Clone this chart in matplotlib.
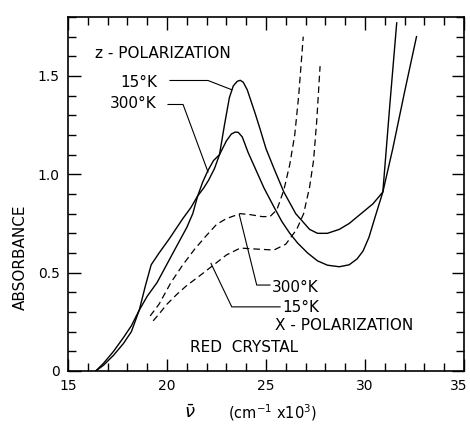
import matplotlib
matplotlib.use('Agg')
import matplotlib.pyplot as plt
import matplotlib.transforms as mtransforms
from matplotlib.ticker import MultipleLocator, FuncFormatter

# z-polarization, 15 K (solid)
z15_x = [16.4, 16.8, 17.3, 17.8, 18.2, 18.6, 18.9, 19.2, 19.6, 20.1, 20.8, 21.2, 21.55,
         21.85, 22.1, 22.4, 22.65, 22.9, 23.15, 23.35, 23.55, 23.7, 23.85, 24.05, 24.25,
         24.45, 24.7, 25.0, 25.4, 25.9, 26.5, 27.2, 27.6, 28.1, 28.7, 29.2, 29.8, 30.4,
         30.9, 31.25, 31.6]
z15_y = [0.0, 0.03, 0.08, 0.14, 0.20, 0.31, 0.43, 0.54, 0.60, 0.67, 0.775, 0.83, 0.89,
         0.93, 0.97, 1.03, 1.10, 1.25, 1.39, 1.45, 1.473, 1.478, 1.468, 1.43, 1.37,
         1.31, 1.23, 1.13, 1.03, 0.91, 0.80, 0.72, 0.70, 0.70, 0.72, 0.75, 0.80, 0.85,
         0.91, 1.35, 1.77]

# z-polarization, 300 K (solid)
z300_x = [16.4, 16.8, 17.3, 17.8, 18.2, 18.6, 19.0, 19.5, 20.3, 21.0, 21.3, 21.55,
          21.8, 22.07, 22.35, 22.65, 23.0, 23.25, 23.45, 23.6, 23.8, 24.1, 24.5, 24.9,
          25.4, 25.8, 26.2, 26.6, 27.1, 27.6, 28.1, 28.7, 29.2, 29.6, 29.9, 30.2, 30.5,
          30.9, 31.4, 32.0, 32.6]
z300_y = [0.0, 0.04, 0.10, 0.17, 0.23, 0.31, 0.38, 0.45, 0.60, 0.73, 0.80, 0.89,
          0.96, 1.02, 1.07, 1.10, 1.17, 1.205, 1.215, 1.213, 1.19, 1.11, 1.02, 0.93,
          0.834, 0.76, 0.70, 0.65, 0.60, 0.56, 0.538, 0.53, 0.54, 0.57, 0.61, 0.68, 0.78,
          0.91, 1.13, 1.42, 1.70]

# x-polarization, 300 K (dashed)
x300_x = [19.15, 19.6, 20.2, 20.8, 21.4, 22.0, 22.5, 23.0, 23.7, 24.2, 24.8, 25.2,
          25.55, 25.9, 26.2, 26.45, 26.65, 26.88]
x300_y = [0.28, 0.34, 0.45, 0.54, 0.62, 0.69, 0.745, 0.775, 0.80, 0.795, 0.785, 0.785,
          0.82, 0.92, 1.05, 1.20, 1.40, 1.70]

# x-polarization, 15 K (dashed)
x15_x = [19.3, 19.6, 20.0, 20.5, 21.0, 21.6, 22.3, 23.0, 23.7, 24.5, 25.4, 26.0,
         26.55, 26.9, 27.2, 27.4, 27.56, 27.73]
x15_y = [0.255, 0.29, 0.34, 0.39, 0.435, 0.48, 0.535, 0.59, 0.625, 0.62, 0.615, 0.645,
         0.72, 0.80, 0.935, 1.07, 1.27, 1.55]

# labels with their leader lines (data coords)
labels = [
    ("15°K", 17.63, 1.469, [(20.15, 1.477), (22.07, 1.477), (23.27, 1.43)]),
    ("300°K", 17.12, 1.36, [(20.05, 1.355), (20.81, 1.355), (22.07, 1.012)]),
    ("300°K", 25.30, 0.426, [(25.2, 0.437), (24.53, 0.437), (23.65, 0.795)]),
    ("15°K", 25.81, 0.325, [(25.71, 0.326), (23.27, 0.326), (22.22, 0.547)]),
]
notes = [
    ("z - POLARIZATION", 16.36, 1.612),
    ("X - POLARIZATION", 25.45, 0.233),
    ("RED  CRYSTAL", 21.16, 0.122),
]

plt.rcParams['font.family'] = ['DejaVu Sans']
plt.rcParams['mathtext.fontset'] = 'dejavusans'

fig = plt.figure(figsize=(4.7, 4.24), dpi=100)
ax = fig.add_axes([0.1447, 0.125, 0.8426, 0.835])

ax.plot(z15_x, z15_y, color='black', lw=1.0)
ax.plot(z300_x, z300_y, color='black', lw=1.0)
ax.plot(x300_x, x300_y, color='black', lw=0.9, linestyle=(0, (5.3, 3.2)))
ax.plot(x15_x, x15_y, color='black', lw=0.9, linestyle=(0, (5.3, 3.2)))

for text, tx, ty, leader in labels:
    ax.text(tx, ty, text, fontsize=11, ha='left', va='center')
    ax.plot([p[0] for p in leader], [p[1] for p in leader], color='black', lw=0.8)

for text, tx, ty in notes:
    ax.text(tx, ty, text, fontsize=11, ha='left', va='center')

ax.set_xlim(15, 35)
ax.set_ylim(0, 1.8)
ax.xaxis.set_major_locator(MultipleLocator(5))
ax.xaxis.set_minor_locator(MultipleLocator(1))
ax.yaxis.set_major_locator(MultipleLocator(0.5))
ax.yaxis.set_minor_locator(MultipleLocator(0.1))
ax.yaxis.set_major_formatter(FuncFormatter(lambda v, p: '0' if v == 0 else f'{v:.1f}'))
ax.tick_params(which='both', direction='in', top=True, right=True, width=1.0,
               labelsize=10, pad=6)
ax.tick_params(which='major', length=9)
ax.tick_params(which='minor', length=5.5)
for s in ax.spines.values():
    s.set_linewidth(1.2)

# keep the "35" label inside the figure edge
fig.canvas.draw()
shift = mtransforms.ScaledTranslation(-5 / 100, 0, fig.dpi_scale_trans)
for lab in ax.get_xticklabels():
    if lab.get_text() == '35':
        lab.set_transform(lab.get_transform() + shift)

fig.text(20 / 470, 0.393, 'ABSORBANCE', rotation=90, fontsize=11, ha='center', va='center')
fig.text(190 / 470, 0.026, r'$\bar{\nu}$', fontsize=13, ha='center', va='center')
fig.text(228 / 470, 0.026, r'(cm$^{-1}$ x10$^{3}$)', fontsize=10.5, ha='left', va='center')

fig.savefig('out.png', dpi=100)
